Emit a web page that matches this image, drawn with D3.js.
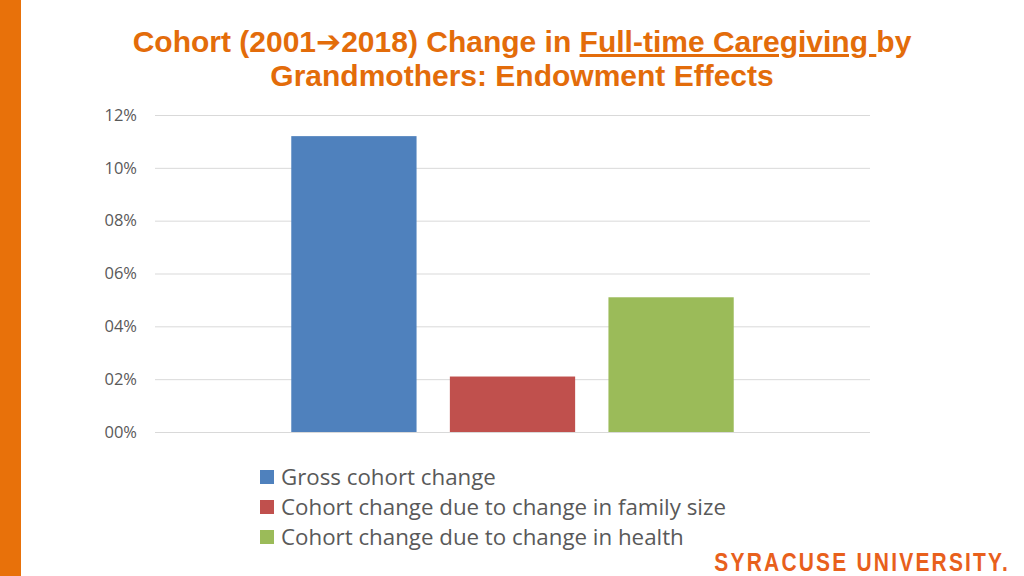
<!DOCTYPE html>
<html><head><meta charset="utf-8">
<script src="https://cdn.jsdelivr.net/npm/d3@7"></script>
<style>body{margin:0;background:#fff}svg{display:block}</style>
</head><body>
<script>
const categories = ["Full-time caregiving"];
const series = ["Gross cohort change", "Cohort change due to change in family size", "Cohort change due to change in health"];
const values = [0.112, 0.021, 0.051];
const colors = ["#4F81BD", "#C0504D", "#9BBB59"];
const ticks = [0, 0.02, 0.04, 0.06, 0.08, 0.10, 0.12];
const tickLabels = ["00%", "02%", "04%", "06%", "08%", "10%", "12%"];

const W = 1024, H = 576;
const svg = d3.select("body").append("svg").attr("width", W).attr("height", H);

svg.append("rect").attr("x", 0).attr("y", 0).attr("width", 21).attr("height", H).attr("fill", "#E8710A");

const orange = "#E36C0A";
const title = svg.append("text").attr("text-anchor", "middle")
  .attr("font-family", "Liberation Sans, Arial, sans-serif").attr("font-weight", "bold")
  .attr("font-size", 30).attr("fill", orange)
  .attr("transform", "translate(522,0)");
const l1 = title.append("tspan").attr("x", 0).attr("y", 52);
l1.append("tspan").text("Cohort (2001");
l1.append("tspan").attr("font-family", "DejaVu Sans").attr("font-size", 30).text("\u2794");
l1.append("tspan").text("2018) Change in ");
l1.append("tspan").attr("text-decoration", "underline").text("Full-time Caregiving ");
l1.append("tspan").text("by");
title.append("tspan").attr("x", 0).attr("y", 86).text("Grandmothers: Endowment Effects");

const y = d3.scaleLinear().domain([0, 0.12]).range([432, 115]);
const x0 = d3.scaleBand().domain(categories).range([155, 870]).paddingInner(0).paddingOuter(0.308);
const x1 = d3.scaleBand().domain(series).range([0, x0.bandwidth()]).paddingInner(0.21).paddingOuter(0);

const grid = svg.append("g").attr("transform", "translate(155,0)")
  .call(d3.axisLeft(y).tickValues(ticks).tickSize(-715).tickFormat((d, i) => tickLabels[i]));
grid.select(".domain").remove();
grid.selectAll(".tick line").attr("stroke", "#D9D9D9").attr("stroke-width", 1);
grid.selectAll(".tick text").attr("x", -18).attr("fill", "#595959")
  .attr("font-family", "Open Sans, sans-serif").attr("font-size", 16.5);

const g = svg.append("g").attr("transform", `translate(${x0(categories[0])},0)`);
g.selectAll("rect").data(series).join("rect")
  .attr("x", d => x1(d)).attr("width", x1.bandwidth())
  .attr("y", (d, i) => y(values[i])).attr("height", (d, i) => y(0) - y(values[i]))
  .attr("fill", (d, i) => colors[i]);

const leg = svg.append("g").attr("transform", "translate(260,477)");
series.forEach((s, i) => {
  const r = leg.append("g").attr("transform", `translate(0,${i * 30})`);
  r.append("rect").attr("x", 0).attr("y", -7).attr("width", 14).attr("height", 14).attr("fill", colors[i]);
  r.append("text").attr("x", 21).attr("y", 0).attr("dy", "0.35em").attr("fill", "#595959")
    .attr("font-family", "Open Sans, sans-serif").attr("font-size", 22.3).text(s);
});

svg.append("text").attr("text-anchor", "end")
  .attr("transform", "translate(1010,571) scale(0.84,1)")
  .attr("font-family", "Liberation Sans, Arial, sans-serif").attr("font-weight", "bold")
  .attr("font-size", 25).attr("letter-spacing", 2.6).attr("fill", "#E8601C").text("SYRACUSE UNIVERSITY.");
</script>
</body></html>
